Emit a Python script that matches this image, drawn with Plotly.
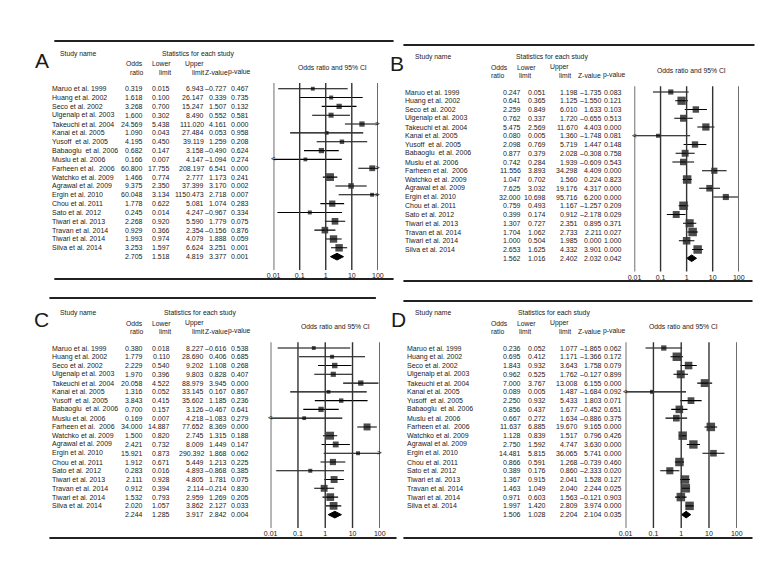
import math
import plotly.graph_objects as go

W, H = 780, 576
FONT = "Liberation Sans, Arial, sans-serif"
FS = 7.0      # table body
FSH = 6.8     # headers
INK = "#1a1a1a"

# ---------------- data ----------------
studies = ["Maruo et al. 1999", "Huang et al. 2002", "Seco et al. 2002", "Ulgenalp et al. 2003",
           "Takeuchi et al. 2004", "Kanai et al. 2005", "Yusoff  et al. 2005", "Babaoglu  et al. 2006",
           "Muslu et al. 2006", "Farheen et al.  2006", "Watchko et al. 2009", "Agrawal et al. 2009",
           "Ergin et al. 2010", "Chou et al. 2011", "Sato et al. 2012", "Tiwari et al. 2013",
           "Travan et al. 2014", "Tiwari et al. 2014", "Silva et al. 2014", ""]

a_or = [0.319, 1.618, 3.268, 1.600, 24.569, 1.090, 4.195, 0.682, 0.166, 60.800, 1.466, 9.375, 60.048, 1.778, 0.245, 2.268, 0.929, 1.993, 3.253, 2.705]
a_ll = [0.015, 0.100, 0.700, 0.302, 5.438, 0.043, 0.450, 0.147, 0.007, 17.755, 0.774, 2.350, 3.134, 0.622, 0.014, 0.920, 0.366, 0.974, 1.597, 1.518]
a_ul = [6.943, 26.147, 15.247, 8.490, 111.020, 27.484, 39.119, 3.158, 4.147, 208.197, 2.777, 37.399, 1150.473, 5.081, 4.247, 5.590, 2.354, 4.079, 6.624, 4.819]
a_z = [-0.727, 0.339, 1.507, 0.552, 4.161, 0.053, 1.259, -0.490, -1.094, 6.541, 1.173, 3.170, 2.718, 1.074, -0.967, 1.779, -0.156, 1.888, 3.251, 3.377]
a_p = [0.467, 0.735, 0.132, 0.581, 0.000, 0.958, 0.208, 0.624, 0.274, 0.000, 0.241, 0.002, 0.007, 0.283, 0.334, 0.075, 0.876, 0.059, 0.001, 0.001]

b_or = [0.247, 0.641, 2.259, 0.762, 5.475, 0.080, 2.098, 0.877, 0.742, 11.556, 1.047, 7.625, 32.000, 0.759, 0.399, 1.307, 1.704, 1.000, 2.653, 1.562]
b_ll = [0.051, 0.365, 0.849, 0.337, 2.569, 0.005, 0.769, 0.379, 0.284, 3.893, 0.702, 3.032, 10.698, 0.493, 0.174, 0.727, 1.062, 0.504, 1.625, 1.016]
b_ul = [1.198, 1.125, 6.010, 1.720, 11.670, 1.360, 5.719, 2.028, 1.939, 34.298, 1.560, 19.176, 95.716, 1.167, 0.912, 2.351, 2.733, 1.985, 4.332, 2.402]
b_z = [-1.735, -1.550, 1.633, -0.655, 4.403, -1.748, 1.447, -0.308, -0.609, 4.409, 0.224, 4.317, 6.200, -1.257, -2.178, 0.895, 2.211, 0.000, 3.901, 2.032]
b_p = [0.083, 0.121, 0.103, 0.513, 0.000, 0.081, 0.148, 0.758, 0.543, 0.000, 0.823, 0.000, 0.000, 0.209, 0.029, 0.371, 0.027, 1.000, 0.000, 0.042]

c_or = [0.380, 1.779, 2.229, 1.970, 20.058, 1.316, 3.843, 0.700, 0.169, 34.000, 1.500, 2.421, 15.921, 1.912, 0.283, 2.111, 0.912, 1.532, 2.020, 2.244]
c_ll = [0.018, 0.110, 0.540, 0.396, 4.522, 0.052, 0.415, 0.157, 0.007, 14.887, 0.820, 0.732, 0.873, 0.671, 0.016, 0.928, 0.394, 0.793, 1.057, 1.285]
c_ul = [8.227, 28.690, 9.202, 9.803, 88.979, 33.145, 35.602, 3.126, 4.218, 77.652, 2.745, 8.009, 290.392, 5.449, 4.893, 4.805, 2.114, 2.959, 3.862, 3.917]
c_z = [-0.616, 0.406, 1.108, 0.828, 3.945, 0.167, 1.185, -0.467, -1.083, 8.369, 1.315, 1.449, 1.868, 1.213, -0.868, 1.781, -0.214, 1.269, 2.127, 2.842]
c_p = [0.538, 0.685, 0.268, 0.407, 0.000, 0.867, 0.236, 0.641, 0.279, 0.000, 0.188, 0.147, 0.062, 0.225, 0.385, 0.075, 0.830, 0.205, 0.033, 0.004]

d_or = [0.236, 0.695, 1.843, 0.962, 7.000, 0.089, 2.250, 0.856, 0.667, 11.637, 1.128, 2.750, 14.481, 0.866, 0.389, 1.367, 1.463, 0.971, 1.997, 1.506]
d_ll = [0.052, 0.412, 0.932, 0.525, 3.767, 0.005, 0.932, 0.437, 0.272, 6.885, 0.839, 1.592, 5.815, 0.591, 0.176, 0.915, 1.049, 0.603, 1.420, 1.028]
d_ul = [1.077, 1.171, 3.643, 1.762, 13.008, 1.487, 5.433, 1.677, 1.634, 19.670, 1.517, 4.747, 36.065, 1.268, 0.860, 2.041, 2.040, 1.563, 2.809, 2.204]
d_z = [-1.865, -1.366, 1.758, -0.127, 6.155, -1.684, 1.803, -0.452, -0.886, 9.165, 0.796, 3.630, 5.741, -0.739, -2.333, 1.528, 2.244, -0.121, 3.974, 2.104]
d_p = [0.062, 0.172, 0.079, 0.899, 0.000, 0.092, 0.071, 0.651, 0.375, 0.000, 0.426, 0.000, 0.000, 0.460, 0.020, 0.127, 0.025, 0.903, 0.000, 0.035]

tick_vals = [0.01, 0.1, 1, 10, 100]
tick_text = ["0.01", "0.1", "1", "10", "100"]
head_row1 = ["Odds", "Lower", "Upper", "", ""]
head_row2 = ["ratio", "limit", "limit", "Z-value", "p-value"]
panel_letters = ["A", "B", "C", "D"]

# ---------------- layout geometry (pixels) ----------------
LEFT_COLS = dict(cols=[131, 159, 193, 216.5, 238.5],
                 h1=[(131, "right"), (160, "right"), (193, "right"), None, None],
                 h2=[(131, "right"), (160, "right"), (193, "right"), (217.5, "right"), (241.5, "right")])
RIGHT_COLS = dict(cols=[515.5, 541, 574, 597.5, 618.5],
                  h1=[(483, "left"), (509, "left"), (543, "left"), None, None],
                  h2=[(483, "left"), (512, "left"), (552, "left"), (572, "left"), (597, "left")])

geom = [
    dict(r0=80.7, step=8.84, top=33, bot=271, rt=(40, 385), rb=(40, 385), letter=(27, 52), name_x=37,
         plot=(263, 369), study_x=45, stats_x=148, ci_x=323, **LEFT_COLS),
    dict(r0=84.0, step=8.75, top=37, bot=273, rt=(395, 752), rb=(395, 750), letter=(388, 55), name_x=396,
         plot=(630, 736), study_x=406, stats_x=508, ci_x=688, **RIGHT_COLS),
    dict(r0=340.0, step=8.77, top=290, bot=530, rt=(35, 367), rb=(35, 388), letter=(27, 311), name_x=37,
         plot=(260, 371), study_x=45, stats_x=150, ci_x=326, **LEFT_COLS),
    dict(r0=340.0, step=8.77, top=293, bot=530, rt=(395, 750), rb=(395, 750), letter=(390, 311), name_x=398,
         plot=(621, 734), study_x=406, stats_x=510, ci_x=680, **RIGHT_COLS),
]

datasets = [(a_or, a_ll, a_ul, a_z, a_p), (b_or, b_ll, b_ul, b_z, b_p),
            (c_or, c_ll, c_ul, c_z, c_p), (d_or, d_ll, d_ul, d_z, d_p)]


def fx(x):
    return x / W


def fy(y):
    return 1 - y / H


def fmt(v):
    return f"{v:.3f}".replace("-", "\u2013")


fig = go.Figure()
annotations = []
shapes = []
layout_axes = {}


def txt(x, y, s, xanchor="left", size=FS, xref="paper", yref="paper"):
    annotations.append(dict(x=x, y=y, xref=xref, yref=yref, text=s, showarrow=False,
                            xanchor=xanchor, yanchor="middle", borderpad=0,
                            font=dict(family=FONT, size=size, color=INK)))


for k, (g, data, letter) in enumerate(zip(geom, datasets, panel_letters)):
    n = k + 1
    xa = "x" if n == 1 else f"x{n}"
    ya = "y" if n == 1 else f"y{n}"
    xkey = "xaxis" if n == 1 else f"xaxis{n}"
    ykey = "yaxis" if n == 1 else f"yaxis{n}"
    orv, llv, ulv, zv, pv = data
    nrow = len(orv)
    r0, step = g["r0"], g["step"]
    g0 = r0 - 5.7
    g1 = r0 + (nrow - 1) * step + 13.3

    layout_axes[xkey] = dict(type="log", range=[-2, 2], domain=[fx(g["plot"][0]), fx(g["plot"][1])],
                             anchor=ya, tickvals=tick_vals, ticktext=tick_text, showgrid=False,
                             zeroline=False, showline=False, ticks="",
                             tickfont=dict(family=FONT, size=FS, color=INK))
    layout_axes[ykey] = dict(range=[(g1 - r0) / step, (g0 - r0) / step], domain=[fy(g1), fy(g0)],
                             anchor=xa, visible=False)

    # decade reference lines
    for v in tick_vals:
        shapes.append(dict(type="line", xref=xa, yref=f"{ya} domain", x0=v, x1=v, y0=0, y1=1,
                           line=dict(color="#333333", width=1.4)))

    # horizontal rules
    shapes.append(dict(type="line", xref="paper", yref="paper", x0=fx(g["rt"][0]), x1=fx(g["rt"][1]),
                       y0=fy(g["top"]), y1=fy(g["top"]), line=dict(color="#222222", width=2)))
    shapes.append(dict(type="line", xref="paper", yref="paper", x0=fx(g["rb"][0]), x1=fx(g["rb"][1]),
                       y0=fy(g["bot"]), y1=fy(g["bot"]), line=dict(color="#222222", width=2)))

    # CI lines
    lx, ly = [], []
    for i in range(nrow - 1):
        lx += [max(llv[i], 0.01), min(ulv[i], 100), None]
        ly += [i, i, None]
    fig.add_trace(go.Scatter(x=lx, y=ly, mode="lines", line=dict(color="black", width=1.1),
                             xaxis=xa, yaxis=ya, hoverinfo="skip", showlegend=False))
    # square markers, size from precision (CI width)
    sizes = []
    for i in range(nrow - 1):
        w = math.log(ulv[i]) - math.log(llv[i])
        sizes.append(min(8.5, max(3.5, 7.8 * (1.28 / w) ** 0.45)))
    fig.add_trace(go.Scatter(x=orv[:-1], y=list(range(nrow - 1)), mode="markers",
                             marker=dict(symbol="square", size=sizes, color="black", line=dict(width=0)),
                             xaxis=xa, yaxis=ya, cliponaxis=False, hoverinfo="skip", showlegend=False))
    # arrows for truncated intervals
    for i in range(nrow - 1):
        if ulv[i] > 100:
            annotations.append(dict(x=2, y=i, xref=xa, yref=ya, text="&gt;", showarrow=False,
                                    xanchor="center", yanchor="middle", yshift=0.5,
                                    font=dict(family=FONT, size=8, color="black")))
        if llv[i] < 0.01:
            annotations.append(dict(x=-2, y=i, xref=xa, yref=ya, text="&lt;", showarrow=False,
                                    xanchor="center", yanchor="middle", yshift=0.5,
                                    font=dict(family=FONT, size=8, color="black")))
    # summary diamond
    s = nrow - 1
    fig.add_trace(go.Scatter(x=[llv[s], orv[s], ulv[s], orv[s], llv[s]],
                             y=[s, s - 0.38, s, s + 0.38, s], mode="lines", fill="toself",
                             fillcolor="black", line=dict(color="black", width=1),
                             xaxis=xa, yaxis=ya, hoverinfo="skip", showlegend=False))

    # table rows
    for i in range(nrow):
        if studies[i]:
            txt(fx(g["name_x"]), i, studies[i], "left", yref=ya)
        for c, vals in enumerate([orv, llv, ulv, zv, pv]):
            txt(fx(g["cols"][c]), i, fmt(vals[i]), "right", yref=ya)

    # headers
    txt(fx(g["letter"][0]), fy(g["letter"][1]), letter, "center", size=21)
    txt(fx(g["study_x"]), fy(r0 - 34.7), "Study name", "left", size=FSH)
    txt(fx(g["stats_x"]), fy(r0 - 34.7), "Statistics for each study", "left", size=FSH)
    txt(fx(g["ci_x"]), fy(r0 - 21.7), "Odds ratio and 95% CI", "center", size=FSH)
    for c in range(5):
        if g["h1"][c] and head_row1[c]:
            txt(fx(g["h1"][c][0]), fy(r0 - 24.7), head_row1[c], g["h1"][c][1], size=FSH)
        if g["h2"][c]:
            txt(fx(g["h2"][c][0]), fy(r0 - 16.7), head_row2[c], g["h2"][c][1], size=FSH)

fig.update_layout(width=W, height=H, margin=dict(l=0, r=0, t=0, b=0),
                  paper_bgcolor="white", plot_bgcolor="rgba(0,0,0,0)",
                  annotations=annotations, shapes=shapes, showlegend=False,
                  font=dict(family=FONT, size=FS, color=INK), **layout_axes)

fig.write_html("out.html")
